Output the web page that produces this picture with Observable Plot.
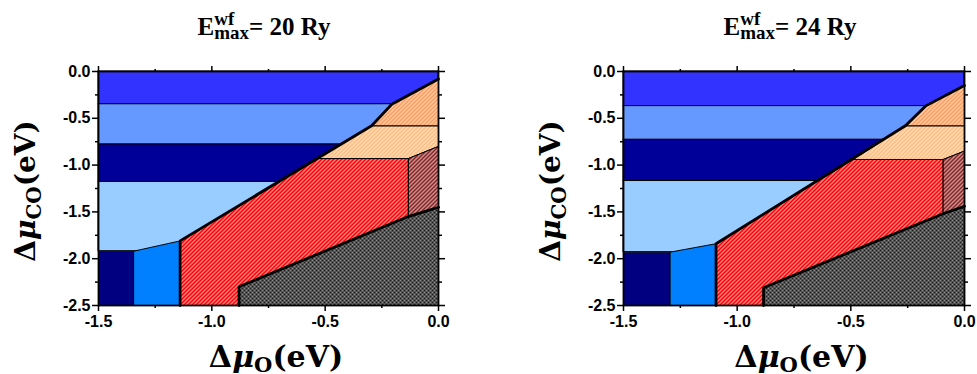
<!DOCTYPE html>
<html><head><meta charset="utf-8">
<script src="https://cdn.jsdelivr.net/npm/d3@7"></script>
<script src="https://cdn.jsdelivr.net/npm/@observablehq/plot@0.6"></script>
<style>
body{margin:0;background:#fff;}
#wrap{position:relative;width:977px;height:374px;overflow:hidden;background:#fff;}
.svgbox{position:absolute;top:50px;}
.title{position:absolute;top:12px;transform:translateX(-50%);font-family:"Liberation Serif","Times New Roman",serif;font-weight:bold;font-size:25px;line-height:30px;white-space:nowrap;color:#000;}
.ss{display:inline-block;position:relative;font-size:19px;line-height:19px;vertical-align:-4px;}
.ss .sup{position:absolute;left:0;top:-14px;}
</style>
</head><body>
<div id="wrap"></div>
<script>
// ---- axis ticks ----
const xMajor = [-1.5, -1.0, -0.5, 0.0];
const xMinor = [-1.25, -0.75, -0.25];
const yMajor = [0.0, -0.5, -1.0, -1.5, -2.0, -2.5];
const yMinor = [-0.25, -0.75, -1.25, -1.75, -2.25];

// ---- panel titles ----
const cutoffs = ["20 Ry", "24 Ry"];

// ---- horizontal bands (edges, top to bottom) ----
const bandColors = ["#3333ff", "#6699ff", "#000099", "#99ccff"];
const bandEdges20 = [0, -0.35, -0.78, -1.18, -1.92];
const bandEdges24 = [0, -0.37, -0.73, -1.17, -1.93];

// ---- panel 1: E = 20 Ry ----
const navy20      = [[-1.5,-2.5],[-1.5,-1.92],[-1.345,-1.92],[-1.345,-2.5]];
const blue20      = [[-1.345,-2.5],[-1.345,-1.92],[-1.14,-1.81],[-1.14,-2.5]];
const red20       = [[-1.14,-2.5],[-1.14,-1.81],[-0.534,-0.93],[-0.133,-0.93],[-0.133,-1.55],[-0.88,-2.30],[-0.88,-2.5]];
const orangeLow20 = [[-0.534,-0.93],[-0.295,-0.58],[0,-0.58],[0,-0.80],[-0.133,-0.93]];
const orangeUp20  = [[-0.295,-0.58],[-0.206,-0.35],[0,-0.08],[0,-0.58]];
const darkRed20   = [[-0.133,-0.93],[0,-0.80],[0,-1.45],[-0.133,-1.55]];
const gray20      = [[-0.88,-2.5],[-0.88,-2.30],[-0.133,-1.55],[0,-1.45],[0,-2.5]];
const mainLine20  = [[-1.14,-2.5],[-1.14,-1.81],[-0.295,-0.58],[-0.206,-0.35],[0,-0.08]];
const grayLine20  = [[-0.88,-2.5],[-0.88,-2.30],[-0.133,-1.55],[0,-1.45]];

// ---- panel 2: E = 24 Ry ----
const navy24      = [[-1.5,-2.5],[-1.5,-1.93],[-1.295,-1.93],[-1.295,-2.5]];
const blue24      = [[-1.295,-2.5],[-1.295,-1.93],[-1.093,-1.84],[-1.093,-2.5]];
const red24       = [[-1.093,-2.5],[-1.093,-1.84],[-0.49,-0.94],[-0.094,-0.94],[-0.094,-1.52],[-0.884,-2.31],[-0.884,-2.5]];
const orangeLow24 = [[-0.49,-0.94],[-0.26,-0.58],[0,-0.58],[0,-0.85],[-0.094,-0.94]];
const orangeUp24  = [[-0.26,-0.58],[-0.172,-0.37],[0,-0.15],[0,-0.58]];
const darkRed24   = [[-0.094,-0.94],[0,-0.85],[0,-1.44],[-0.094,-1.52]];
const gray24      = [[-0.884,-2.5],[-0.884,-2.31],[-0.094,-1.52],[0,-1.44],[0,-2.5]];
const mainLine24  = [[-1.093,-2.5],[-1.093,-1.84],[-0.26,-0.58],[-0.172,-0.37],[0,-0.15]];
const grayLine24  = [[-0.884,-2.5],[-0.884,-2.31],[-0.094,-1.52],[0,-1.44]];

const panels = [
  {id:"p20", left:0, width:488, ml:98, mr:50, title:cutoffs[0], titleX:264, edges:bandEdges20,
   navy:navy20, blue:blue20, red:red20, oLow:orangeLow20, oUp:orangeUp20, dRed:darkRed20, gray:gray20,
   main:mainLine20, gline:grayLine20, ylabX:35},
  {id:"p24", left:488, width:489, ml:135, mr:13, title:cutoffs[1], titleX:790, edges:bandEdges24,
   navy:navy24, blue:blue24, red:red24, oLow:orangeLow24, oUp:orangeUp24, dRed:darkRed24, gray:gray24,
   main:mainLine24, gline:grayLine24, ylabX:72}
];

const wrap = document.getElementById("wrap");
const H = 324, MT = 21, MB = 69;

for (const p of panels) {
  const bands = bandColors.map((c, i) => ({y1: p.edges[i], y2: p.edges[i+1], color: c}));
  const close = pts => pts.concat([pts[0]]);
  const poly = (pts, fill) => Plot.line(close(pts), {x: d => d[0], y: d => d[1], fill, stroke: "black", strokeWidth: 1, curve: "linear"});
  const url = name => `url(#${p.id}-${name})`;
  const fs = {fontSize: 16, fontWeight: "bold", fontFamily: "Liberation Sans, Arial, sans-serif"};

  const svg = Plot.plot({
    width: p.width, height: H,
    marginLeft: p.ml, marginRight: p.mr, marginTop: MT, marginBottom: MB,
    x: {domain: [-1.5, 0], label: null},
    y: {domain: [-2.5, 0], label: null},
    style: {fontFamily: "Liberation Sans, Arial, sans-serif", fontWeight: "bold", fontSize: "16px", color: "black", background: "white", overflow: "visible"},
    marks: [
      Plot.rect(bands, {x1: () => -1.5, x2: () => 0, y1: "y1", y2: "y2", fill: "color", stroke: "black", strokeWidth: 1}),
      poly(p.navy, "#000080"),
      poly(p.blue, "#0080ff"),
      poly(p.red, url("red")),
      poly(p.oLow, url("olow")),
      poly(p.oUp, url("oup")),
      poly(p.dRed, url("dred")),
      poly(p.gray, url("gray")),
      Plot.line(p.main, {x: d => d[0], y: d => d[1], stroke: "black", strokeWidth: 2.8, strokeLinejoin: "miter"}),
      Plot.line(p.gline, {x: d => d[0], y: d => d[1], stroke: "black", strokeWidth: 2.8, strokeLinejoin: "miter"}),
      Plot.axisX({anchor: "bottom", ticks: xMajor, tickSize: 6, tickPadding: 4, tickFormat: d => d.toFixed(1), strokeWidth: 1.5, label: null, ...fs}),
      Plot.axisX({anchor: "bottom", ticks: xMinor, tickSize: 3, tickFormat: () => "", strokeWidth: 1.5, label: null}),
      Plot.axisX({anchor: "top", ticks: xMajor, tickSize: 6, tickFormat: () => "", strokeWidth: 1.5, label: null}),
      Plot.axisX({anchor: "top", ticks: xMinor, tickSize: 3, tickFormat: () => "", strokeWidth: 1.5, label: null}),
      Plot.axisY({anchor: "left", ticks: yMajor, tickSize: 6, tickPadding: 2, tickFormat: d => d.toFixed(1), strokeWidth: 1.5, label: null, ...fs}),
      Plot.axisY({anchor: "left", ticks: yMinor, tickSize: 3, tickFormat: () => "", strokeWidth: 1.5, label: null}),
      Plot.axisY({anchor: "right", ticks: yMajor, tickSize: 6, tickFormat: () => "", strokeWidth: 1.5, label: null}),
      Plot.axisY({anchor: "right", ticks: yMinor, tickSize: 3, tickFormat: () => "", strokeWidth: 1.5, label: null}),
      Plot.frame({stroke: "black", strokeWidth: 1.8})
    ]
  });

  const s = d3.select(svg);
  const defs = s.insert("defs", ":first-child");
  // pixel-aligned "/" stripe tile (4x4)
  const stripe = (name, bg, fg) => {
    const pt = defs.append("pattern").attr("id", `${p.id}-${name}`).attr("patternUnits", "userSpaceOnUse")
      .attr("width", 4).attr("height", 4);
    pt.append("rect").attr("width", 4).attr("height", 4).attr("fill", bg).attr("shape-rendering", "crispEdges");
    for (let r = 0; r < 4; r++) {
      pt.append("rect").attr("x", 3 - r).attr("y", r).attr("width", 1).attr("height", 1)
        .attr("fill", fg).attr("shape-rendering", "crispEdges");
    }
  };
  stripe("red", "#ff0000", "#ffffff");
  stripe("olow", "#ffbb77", "#ffffff");
  stripe("oup", "#ff9955", "#ffffff");
  stripe("dred", "#8b2323", "#ffffff");
  const cross = defs.append("pattern").attr("id", `${p.id}-gray`).attr("patternUnits", "userSpaceOnUse")
    .attr("width", 4).attr("height", 4);
  cross.append("rect").attr("width", 4).attr("height", 4).attr("fill", "#8c8c8c").attr("shape-rendering", "crispEdges");
  for (let r = 0; r < 4; r++) {
    for (const cx of [r, 3 - r]) {
      cross.append("rect").attr("x", cx).attr("y", r).attr("width", 1).attr("height", 1)
        .attr("fill", "#1a1a1a").attr("shape-rendering", "crispEdges");
    }
  }

  const labFont = "DejaVu Serif, Liberation Serif, serif";
  const plotW = p.width - p.ml - p.mr;
  // x label
  const xl = s.append("text").attr("x", p.ml + plotW / 2 + 8).attr("y", 317).attr("text-anchor", "middle")
    .attr("font-family", labFont).attr("font-weight", "bold").attr("font-size", 30).attr("fill", "black");
  xl.append("tspan").text("Δ");
  xl.append("tspan").attr("font-style", "italic").text("μ");
  xl.append("tspan").attr("font-size", 21).attr("dy", 5).text("O");
  xl.append("tspan").attr("dy", -5).text("(eV)");
  // y label
  const yl = s.append("text").attr("transform", `translate(${p.ylabX},${141}) rotate(-90)`).attr("text-anchor", "middle")
    .attr("font-family", labFont).attr("font-weight", "bold").attr("font-size", 28).attr("fill", "black");
  yl.append("tspan").text("Δ");
  yl.append("tspan").attr("font-style", "italic").text("μ");
  yl.append("tspan").attr("font-size", 20).attr("dy", 6).text("CO");
  yl.append("tspan").attr("dy", -6).text("(eV)");

  const box = document.createElement("div");
  box.className = "svgbox";
  box.style.left = p.left + "px";
  box.style.width = p.width + "px";
  box.appendChild(svg);
  wrap.appendChild(box);

  const t = document.createElement("div");
  t.className = "title";
  t.style.left = p.titleX + "px";
  t.innerHTML = `E<span class="ss"><span class="sup">wf</span><span>max</span></span>= ${p.title}`;
  wrap.appendChild(t);
}
</script>
</body></html>
